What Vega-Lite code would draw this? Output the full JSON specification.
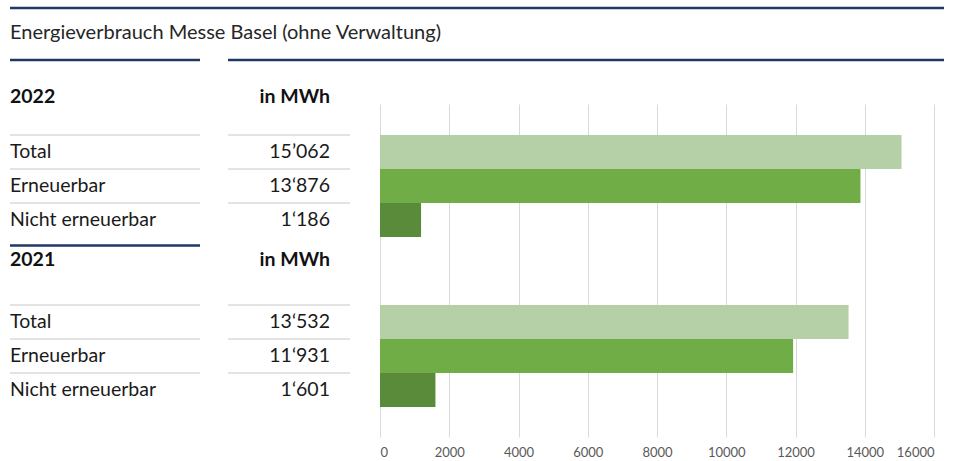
{
  "$schema": "https://vega.github.io/schema/vega-lite/v6.json",
  "padding": {"left": 8, "top": 6, "right": 0, "bottom": 0},
  "config": {"view": {"stroke": null}, "font": "Lato"},
  "datasets": {
    "title": [{"text": "Energieverbrauch Messe Basel (ohne Verwaltung)"}],
    "headers": [
      {"row": "h22", "year": "2022", "unit": "in MWh"},
      {"row": "h21", "year": "2021", "unit": "in MWh"}
    ],
    "rows": [
      {"row": "T22", "year": "2022", "category": "Total", "value": 15062, "display": "15’062"},
      {"row": "E22", "year": "2022", "category": "Erneuerbar", "value": 13876, "display": "13‘876"},
      {"row": "N22", "year": "2022", "category": "Nicht erneuerbar", "value": 1186, "display": "1‘186"},
      {"row": "T21", "year": "2021", "category": "Total", "value": 13532, "display": "13‘532"},
      {"row": "E21", "year": "2021", "category": "Erneuerbar", "value": 11931, "display": "11‘931"},
      {"row": "N21", "year": "2021", "category": "Nicht erneuerbar", "value": 1601, "display": "1‘601"}
    ]
  },
  "bounds": "flush",
  "spacing": 9,
  "vconcat": [
    {
      "width": 934,
      "height": 50,
      "data": {"name": "title"},
      "layer": [
        {
          "mark": {"type": "rule", "color": "#1F3864", "strokeWidth": 2.5},
          "encoding": {
            "y": {"datum": "t", "type": "nominal", "bandPosition": 0, "scale": {"type": "band", "domain": ["t"], "paddingInner": 0, "paddingOuter": 0}, "axis": null}
          }
        },
        {
          "mark": {"type": "text", "align": "left", "baseline": "middle", "fontSize": 20, "color": "#262626"},
          "encoding": {
            "x": {"datum": 0, "type": "quantitative", "scale": {"domain": [0, 1]}, "axis": null},
            "y": {"datum": "t", "type": "nominal", "axis": null},
            "text": {"field": "text"}
          }
        }
      ]
    },
    {
      "bounds": "flush",
      "spacing": 28,
      "hconcat": [
        {
          "width": 190,
          "height": 374,
          "layer": [
            {
              "data": {"name": "rows"},
              "mark": {"type": "rule", "color": "#c8c8c8", "strokeWidth": 1},
              "encoding": {
                "y": {"field": "row", "type": "nominal", "bandPosition": 0, "axis": null,
                  "scale": {"type": "band", "domain": ["h22", "g22", "T22", "E22", "N22", "h21", "g21", "T21", "E21", "N21", "end"], "paddingInner": 0, "paddingOuter": 0}}
              }
            },
            {
              "data": {"name": "headers"},
              "transform": [{"filter": "datum.year == '2022'"}],
              "mark": {"type": "rule", "color": "#1F3864", "strokeWidth": 2.5, "yOffset": -7},
              "encoding": {"y": {"field": "row", "type": "nominal", "bandPosition": 0}}
            },
            {
              "data": {"name": "headers"},
              "transform": [{"filter": "datum.year == '2021'"}],
              "mark": {"type": "rule", "color": "#1F3864", "strokeWidth": 2.5, "yOffset": 8.5},
              "encoding": {"y": {"field": "row", "type": "nominal", "bandPosition": 0}}
            },
            {
              "data": {"name": "rows"},
              "mark": {"type": "text", "align": "left", "baseline": "middle", "fontSize": 19.5, "color": "#1a1a1a"},
              "encoding": {
                "x": {"datum": 0, "type": "quantitative", "scale": {"domain": [0, 1]}, "axis": null},
                "y": {"field": "row", "type": "nominal"},
                "text": {"field": "category"}
              }
            },
            {
              "data": {"name": "headers"},
              "transform": [{"filter": "datum.year == '2022'"}],
              "mark": {"type": "text", "align": "left", "baseline": "middle", "fontSize": 19.5, "fontWeight": "bold", "color": "#111111", "dy": 13},
              "encoding": {
                "x": {"datum": 0, "type": "quantitative"},
                "y": {"field": "row", "type": "nominal"},
                "text": {"field": "year"}
              }
            },
            {
              "data": {"name": "headers"},
              "transform": [{"filter": "datum.year == '2021'"}],
              "mark": {"type": "text", "align": "left", "baseline": "middle", "fontSize": 19.5, "fontWeight": "bold", "color": "#111111", "dy": 6},
              "encoding": {
                "x": {"datum": 0, "type": "quantitative"},
                "y": {"field": "row", "type": "nominal"},
                "text": {"field": "year"}
              }
            }
          ]
        },
        {
          "bounds": "flush",
          "spacing": 0,
          "hconcat": [
            {
              "width": 122,
              "height": 374,
              "layer": [
                {
                  "data": {"name": "rows"},
                  "mark": {"type": "rule", "color": "#c8c8c8", "strokeWidth": 1},
                  "encoding": {
                    "y": {"field": "row", "type": "nominal", "bandPosition": 0, "axis": null,
                      "scale": {"type": "band", "domain": ["h22", "g22", "T22", "E22", "N22", "h21", "g21", "T21", "E21", "N21", "end"], "paddingInner": 0, "paddingOuter": 0}}
                  }
                },
                {
                  "data": {"name": "headers"},
                  "transform": [{"filter": "datum.year == '2022'"}],
                  "mark": {"type": "rule", "color": "#1F3864", "strokeWidth": 2.5, "yOffset": -7},
                  "encoding": {"y": {"field": "row", "type": "nominal", "bandPosition": 0}}
                },
                {
                  "data": {"name": "rows"},
                  "mark": {"type": "text", "align": "right", "baseline": "middle", "fontSize": 19.5, "color": "#1a1a1a", "dx": -20},
                  "encoding": {
                    "x": {"datum": 1, "type": "quantitative", "scale": {"domain": [0, 1]}, "axis": null},
                    "y": {"field": "row", "type": "nominal"},
                    "text": {"field": "display"}
                  }
                },
                {
                  "data": {"name": "headers"},
                  "transform": [{"filter": "datum.year == '2022'"}],
                  "mark": {"type": "text", "align": "right", "baseline": "middle", "fontSize": 19.5, "fontWeight": "bold", "color": "#111111", "dx": -20, "dy": 13},
                  "encoding": {
                    "x": {"datum": 1, "type": "quantitative"},
                    "y": {"field": "row", "type": "nominal"},
                    "text": {"field": "unit"}
                  }
                },
                {
                  "data": {"name": "headers"},
                  "transform": [{"filter": "datum.year == '2021'"}],
                  "mark": {"type": "text", "align": "right", "baseline": "middle", "fontSize": 19.5, "fontWeight": "bold", "color": "#111111", "dx": -20, "dy": 6},
                  "encoding": {
                    "x": {"datum": 1, "type": "quantitative"},
                    "y": {"field": "row", "type": "nominal"},
                    "text": {"field": "unit"}
                  }
                }
              ]
            },
            {
              "width": 594,
              "height": 374,
              "layer": [
                {
                  "data": {"name": "headers"},
                  "transform": [{"filter": "datum.year == '2022'"}],
                  "mark": {"type": "rule", "color": "#1F3864", "strokeWidth": 2.5, "yOffset": -7},
                  "encoding": {
                    "y": {"field": "row", "type": "nominal", "bandPosition": 0, "axis": null,
                      "scale": {"type": "band", "domain": ["h22", "g22", "T22", "E22", "N22", "h21", "g21", "T21", "E21", "N21", "end"], "paddingInner": 0, "paddingOuter": 0}}
                  }
                },
                {
                  "data": {"name": "rows"},
                  "mark": {"type": "bar"},
                  "encoding": {
                    "x": {"field": "value", "type": "quantitative",
                      "scale": {"domain": [0, 16000], "range": [30, 584], "nice": false},
                      "axis": {"values": [0, 2000, 4000, 6000, 8000, 10000, 12000, 14000, 16000], "title": null, "domain": false, "ticks": false,
                        "grid": true, "gridColor": "#d9d9d9", "gridWidth": 1, "gridDash": [0, 4, 333, 2000],
                        "labelFont": "Lato", "labelFontSize": 13, "labelColor": "#595959", "labelPadding": 5, "format": "d"}},
                    "y": {"field": "row", "type": "nominal"},
                    "color": {"field": "category", "type": "nominal", "legend": null,
                      "scale": {"domain": ["Total", "Erneuerbar", "Nicht erneuerbar"], "range": ["#B5CFA7", "#70AD47", "#5A8B3B"]}}
                  }
                }
              ]
            }
          ]
        }
      ]
    }
  ]
}
